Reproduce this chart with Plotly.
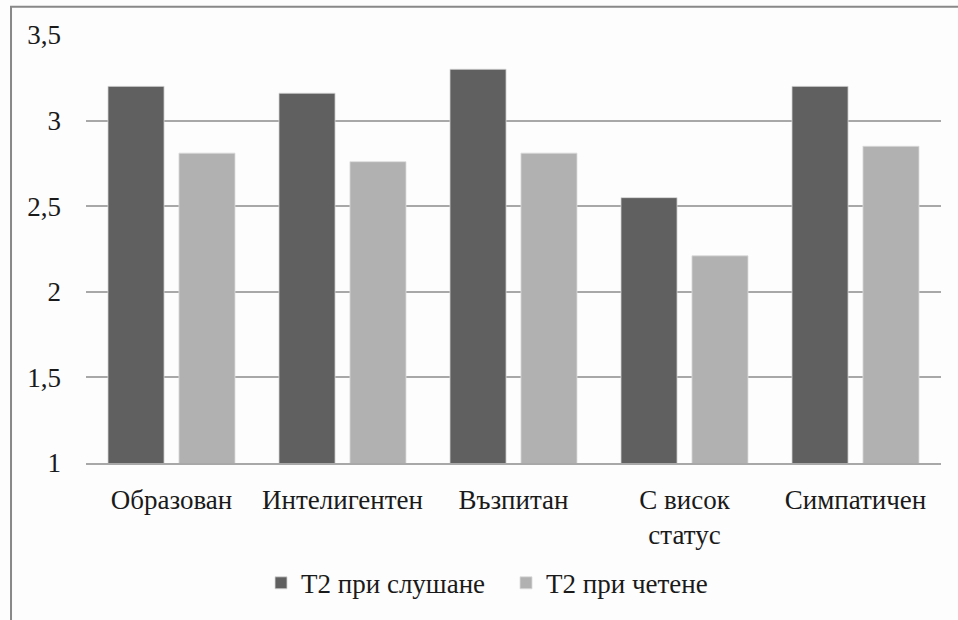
import plotly.graph_objects as go

# Categories (personal traits) and mean scores for the two T2 conditions
categories = ["Образован", "Интелигентен", "Възпитан", "С висок<br>статус", "Симпатичен"]
listening = [3.20, 3.16, 3.30, 2.55, 3.20]
reading = [2.81, 2.76, 2.81, 2.21, 2.85]
series_names = ["Т2 при слушане", "Т2 при четене"]

tick_vals = [1, 1.5, 2, 2.5, 3, 3.5]
tick_text = ["1", "1,5", "2", "2,5", "3", "3,5"]

FONT = "Liberation Serif, Times New Roman, serif"
GRID = "#a8a8a8"
TXT = "#1a1a1a"
FS = 27

fig = go.Figure()
fig.add_trace(go.Bar(
    x=categories, y=listening, name=series_names[0],
    marker=dict(color="#606060", line=dict(color="#d8d8d8", width=0.8)),
))
fig.add_trace(go.Bar(
    x=categories, y=reading, name=series_names[1],
    marker=dict(color="#b1b1b1", line=dict(color="#dcdcdc", width=0.8)),
))

fig.update_layout(
    width=958, height=620,
    margin=dict(l=86, r=17, t=35, b=154),
    paper_bgcolor="#fdfdfd",
    plot_bgcolor="#fdfdfd",
    font=dict(family=FONT, size=FS, color=TXT),
    barmode="group",
    bargap=0.17,
    bargroupgap=0.21,
    separators=", ",
    showlegend=True,
    legend=dict(
        orientation="h",
        x=0.2047, xanchor="left",
        y=-0.281, yanchor="middle",
        font=dict(family=FONT, size=FS, color=TXT),
        itemwidth=30,
        entrywidth=200, entrywidthmode="pixels",
        bgcolor="rgba(0,0,0,0)",
    ),
    xaxis=dict(
        showgrid=False,
        showline=True, linecolor=GRID, linewidth=1.6,
        ticks="", ticklabelstandoff=12,
        tickfont=dict(family=FONT, size=FS, color=TXT),
    ),
    yaxis=dict(
        range=[1, 3.5],
        tickvals=tick_vals, ticktext=tick_text,
        showgrid=True, gridcolor=GRID, gridwidth=1.6,
        zeroline=False, showline=False,
        ticks="", ticklabelstandoff=24,
        tickfont=dict(family=FONT, size=FS, color=TXT),
    ),
    shapes=[
        # outer chart frame (extends past the right and bottom edges)
        dict(type="rect", xref="paper", yref="paper",
             x0=-0.0877, x1=1.04, y0=-0.404, y1=1.0661,
             line=dict(color="#888888", width=2), fillcolor="rgba(0,0,0,0)",
             layer="below"),
    ],
)

fig.write_html("out.html")
